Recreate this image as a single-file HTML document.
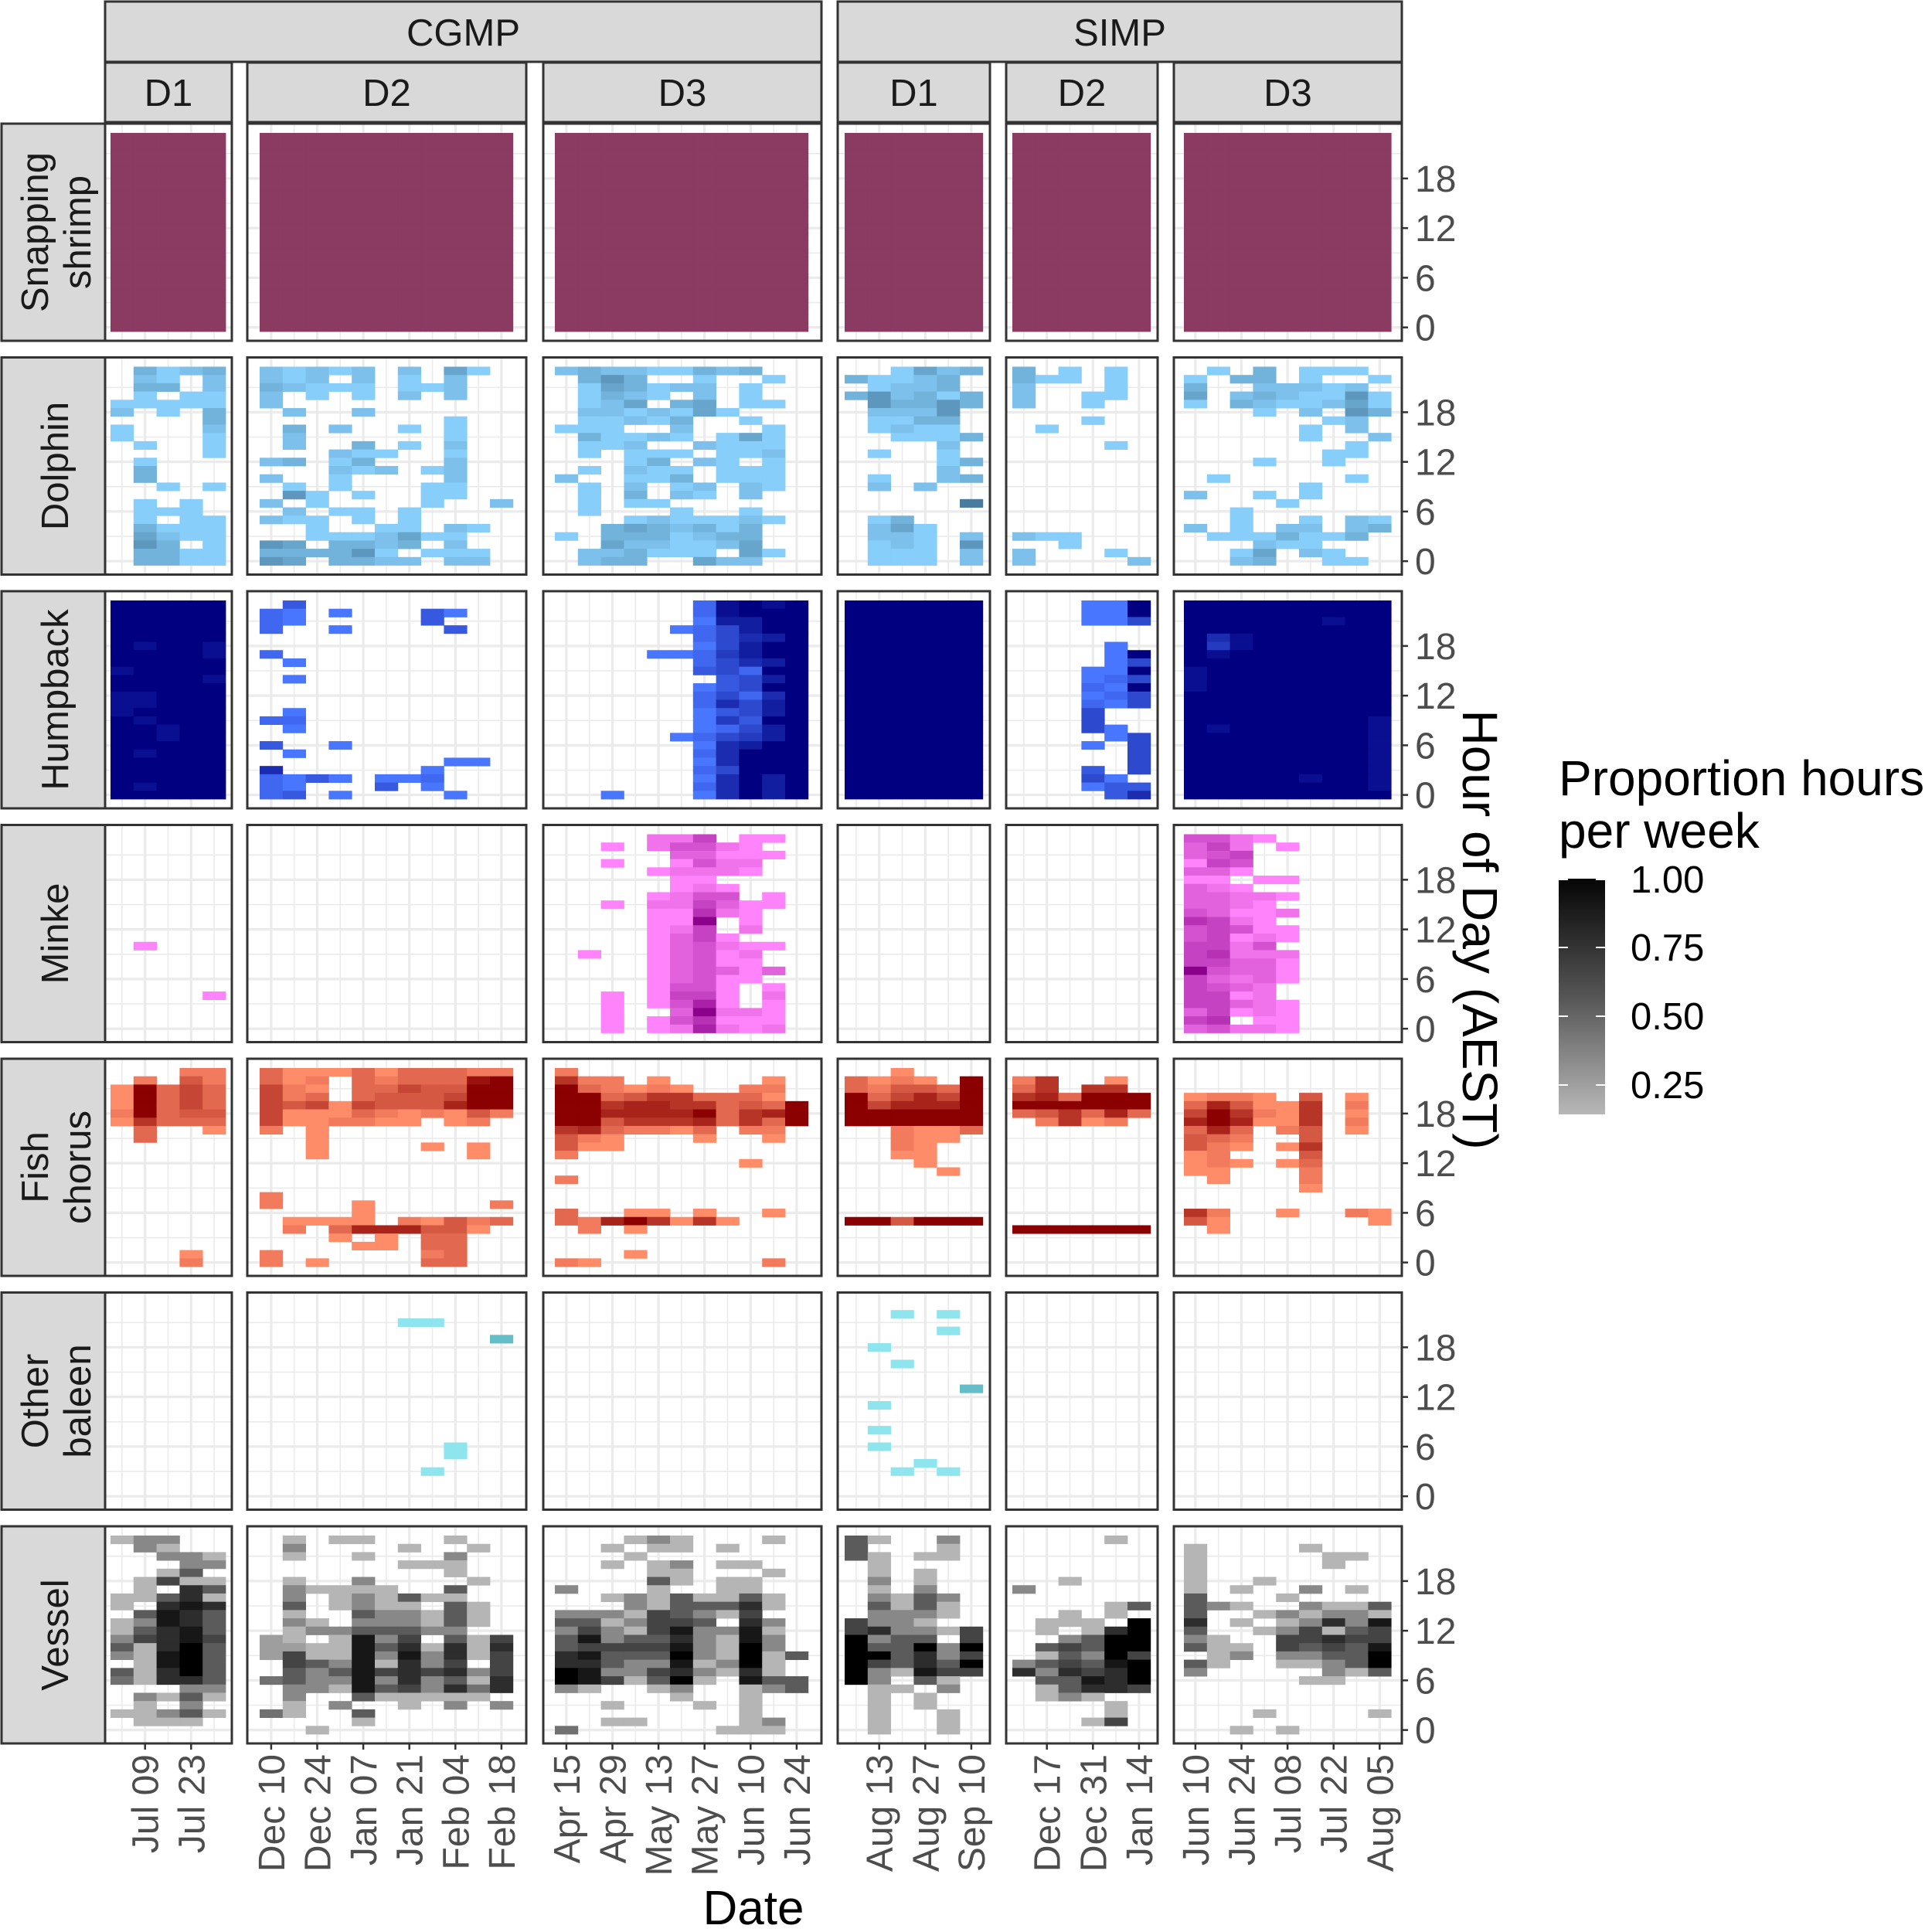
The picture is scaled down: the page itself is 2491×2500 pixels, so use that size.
<!DOCTYPE html>
<html><head><meta charset="utf-8">
<style>
html,body{margin:0;padding:0;background:#fff;}
svg{display:block;font-family:"Liberation Sans",Arial,sans-serif;}
</style></head>
<body>
<svg id="chart" width="2491" height="2500" viewBox="0 0 2491 2500" xmlns="http://www.w3.org/2000/svg">
<defs>
<linearGradient id="cbar" x1="0" y1="0" x2="0" y2="1">
<stop offset="0" stop-color="#050505"/><stop offset="0.5" stop-color="#555"/><stop offset="1" stop-color="#b8b8b8"/>
</linearGradient>
</defs>
<g id="grid-layer"></g>
<g id="cell-layer"></g>
<g id="frame-layer"></g>
<g id="text-layer"></g>
<text transform="translate(1893,1203) rotate(90)" text-anchor="middle" font-size="64" fill="#000">Hour of Day (AEST)</text>
<text x="975" y="2490" text-anchor="middle" font-size="62" fill="#000">Date</text>
<g>
<text x="2017" y="1029" font-size="64" fill="#000">Proportion hours</text>
<text x="2017" y="1097" font-size="64" fill="#000">per week</text>
<rect x="2017" y="1137" width="60" height="305" fill="url(#cbar)"/>
<g stroke="#fff" stroke-width="2">
<line x1="2017" x2="2029" y1="1138" y2="1138"/><line x1="2065" x2="2077" y1="1138" y2="1138"/>
<line x1="2017" x2="2029" y1="1226" y2="1226"/><line x1="2065" x2="2077" y1="1226" y2="1226"/>
<line x1="2017" x2="2029" y1="1315" y2="1315"/><line x1="2065" x2="2077" y1="1315" y2="1315"/>
<line x1="2017" x2="2029" y1="1404" y2="1404"/><line x1="2065" x2="2077" y1="1404" y2="1404"/>
</g>
<text x="2110" y="1155" font-size="49" fill="#000">1.00</text>
<text x="2110" y="1243" font-size="49" fill="#000">0.75</text>
<text x="2110" y="1332" font-size="49" fill="#000">0.50</text>
<text x="2110" y="1421" font-size="49" fill="#000">0.25</text>
</g>
</svg>
<script>
// ---- data: panel names, tick labels, and intensity grids (row 0 = hour 23, '.' = none, 1..9 = proportion) ----
const sites = ["CGMP","CGMP","CGMP","SIMP","SIMP","SIMP"];
const deployments = ["D1","D2","D3","D1","D2","D3"];
const species = ["Snapping shrimp","Dolphin","Humpback","Minke","Fish chorus","Other baleen","Vessel"];
const hourTicks = [0,6,12,18];
const tickCols = [[1,3],[0,2,4,6,8,10],[0,2,4,6,8,10],[1,3,5],[1,3,5],[0,2,4,6,8]];
const tickLabels = [["Jul 09","Jul 23"],["Dec 10","Dec 24","Jan 07","Jan 21","Feb 04","Feb 18"],["Apr 15","Apr 29","May 13","May 27","Jun 10","Jun 24"],["Aug 13","Aug 27","Sep 10"],["Dec 17","Dec 31","Jan 14"],["Jun 10","Jun 24","Jul 08","Jul 22","Aug 05"]];
const weekCounts = [5,11,11,6,6,9];

const shrimp = [
["99999","99999","99999","99999","99999","99999","99999","99999","99999","99999","99999","99999","99999","99999","99999","99999","99999","99999","99999","99999","99999","99999","99999","99999"],
["99999999999","99999999999","99999999999","99999999999","99999999999","99999999999","99999999999","99999999999","99999999999","99999999999","99999999999","99999999999","99999999999","99999999999","99999999999","99999999999","99999999999","99999999999","99999999999","99999999999","99999999999","99999999999","99999999999","99999999999"],
["99999999999","99999999999","99999999999","99999999999","99999999999","99999999999","99999999999","99999999999","99999999999","99999999999","99999999999","99999999999","99999999999","99999999999","99999999999","99999999999","99999999999","99999999999","99999999999","99999999999","99999999999","99999999999","99999999999","99999999999"],
["999999","999999","999999","999999","999999","999999","999999","999999","999999","999999","999999","999999","999999","999999","999999","999999","999999","999999","999999","999999","999999","999999","999999","999999"],
["999999","999999","999999","999999","999999","999999","999999","999999","999999","999999","999999","999999","999999","999999","999999","999999","999999","999999","999999","999999","999999","999999","999999","999999"],
["999999999","999999999","999999999","999999999","999999999","999999999","999999999","999999999","999999999","999999999","999999999","999999999","999999999","999999999","999999999","999999999","999999999","999999999","999999999","999999999","999999999","999999999","999999999","999999999"]
];
const dolphin = [
[".3123",".21.2",".33.2",".1.11","11111","2.1.3","....3","1...2","1...1",".1..1","....1",".1...",".3...",".3...","..1.1",".....",".1.1.",".111.",".1.11",".3111",".4211",".53.1",".3311",".3311"],
["21212.2.41.","212.2.1.2..","32111.112..","2.1.1.2.2..","2..........",".2..2......","........1..",".3.2..1.1..",".2......1..",".2..3.1.2..","...211..1..","23.13...2..","...212.12..","2..1....2..",".1.1...11..",".51.1..11..","2.1....1..2",".2.11.1....","211.1.1....","..1..11.21.","..1112411..","54.3323.2..","333351.111.","54.3322.22."],
["232211323..",".353..1..1.",".143122.1..",".1321.2.1..",".124.34.11.",".2212141...",".11213..1..","111..2...1.",".31121.141.",".112..2111.",".1.111.112.","...13.21.1.",".1.211.111.","2..113.111.",".1.2.12.21.",".1.3.21.2..",".1.11......",".1...1..1..","...1211121.","..3432313..","1.3331233..","..4221124..",".223111.41.",".233..422.."],
["..1423","31123.",".1223.","352313",".53353",".2225.",".1133.",".1211.","..1113","....2.",".1..1.","....13","....2.",".1..23",".2.2..","......",".....7","......",".13...",".241..",".221.2",".121.5",".111.2",".111.2"],
["3.1.1.","311.1.","2...1.","2..11.","2..1..","......","...1..",".1....","......","....1.","......","......","......","......","......","......","......","......","......","......","211...","..1...","2...1.","2....2"],
[".1.3.111.","1.33.1..1","3..22212.","4.2321151","1.3211241","...1.2.53","......12.",".....1.2.",".....1..2",".......1.","......11.","...1..1..",".........",".1.....1.",".....1...","2..1.1...","....1....","..1......","..1..1.21","2.1.22.23",".1113113.","...211...","..14.21..","..23..11."]
];
const humpback = [
["99999","99999","99999","99999","99999","98998","99998","99999","89999","99998","99999","88999","88999","89999","98999","99899","99899","99999","98999","99999","99999","99999","98999","99999"],
[".3.........","21.1...31..","21.....3...","2..1....3..","...........","...........","2..........",".1.........","...........",".1.........","...........","...........","...........",".1.........","22.........",".1.........","...........","3..1.......",".1.........","........11.","6......1...","2131.112...","21...3.1...","23.1....1.."],
["......28989","......28999","......17799",".....124799","......24679","......14799","....1125799","......24679","......34299",".......3479","......13499","......24269","......26479","......13479","......15399","......12479",".....124579","......16799","......26999","......16999","......24999","......16979","......26979","..1...16979"],
["999999","999999","999999","999999","999999","999999","999999","999999","999999","999999","999999","999999","999999","999999","999999","999999","999999","999999","999999","999999","999999","999999","999999","999999"],
["...119","...119","...114","......","......","....1.","....19","....14","...119","...124","...219","...124","...214","...4..","...4..","...41.","....14","...1.4",".....4",".....4","...3.4","...41.","...133","....36"],
["999999999","999999999","999999899","999999999","968999999","958999999","989999999","999999999","899999999","899999999","899999999","999999999","999999999","999999999","999999998","989999998","999999998","999999998","999999998","999999998","999999998","999998998","999999998","999999999"]
];
const minke = [
[".....",".....",".....",".....",".....",".....",".....",".....",".....",".....",".....",".....",".....",".1...",".....",".....",".....",".....",".....","....1",".....",".....",".....","....."],
["...........","...........","...........","...........","...........","...........","...........","...........","...........","...........","...........","...........","...........","...........","...........","...........","...........","...........","...........","...........","...........","...........","...........","..........."],
["....225.11.","..1.24421..",".....33111.","..1..1422..","....12221..",".....11....",".....121...","....1244.1.","..1.225311.","....11621..","....119.1..","....125.2..","....1351...","....134211.",".1..13412..","....13411..","....134313.","....13411..","....1441.1.","..1.1551.2.","..1.1471.1.","..1..39221.","..1.146111.","..1.127212."],
["......","......","......","......","......","......","......","......","......","......","......","......","......","......","......","......","......","......","......","......","......","......","......","......"],
["......","......","......","......","......","......","......","......","......","......","......","......","......","......","......","......","......","......","......","......","......","......","......","......"],
["4421.....","352.1....","345......","154......","331......","11.11....","321......","33221....","3321.....","43112....","6521.....","45411....","45121....","5524.....","56222....","55331....","94331....","53231....","5432.....","5512.....","55321....","35121....","56.11....","34221...."]
];
const fish = [
["...22",".2.42","19353","19353","19353","29344","16333",".3..1",".3...",".....",".....",".....",".....",".....",".....",".....",".....",".....",".....",".....",".....",".....","...1.","...2."],
["31113133322","312.3233389","521.3354499","523.3444599","54515444799","51113212142","5112211.12.","2.1........","..1........","..1....1.1.","..1......1.","...........","...........","...........","...........","2..........","2...1.....2","....1......",".1111.21423",".2.3777441.","...1.1.33..","....11.33..","2......23..","2.1....33.."],
["2..........","622.1....1.","932121..22.","9934663331.","99677663439","99777793679","99466673639","6732213.22.","421...1..1.","411........","2..........","........1..","...........","2..........","...........","...........","...........","3..11.1..1.","32796161...",".2.1.......","...........","...........","...1.......","21.......2."],
["..1...","3121.9","324439","935759","957779","999999","999999","..2113","..211.","..21..","..11..","...1..","....1.","......","......","......","......","......","994999","......","......","......","......","......"],
["......","26..1.","36.66.","673999","999999","346373",".2612.","......","......","......","......","......","......","......","......","......","......","......","......","999999","......","......","......","......"],
[".........",".........",".........","1221.4.1.","374116.2.","596216.1.","797116.2.","373.24.1.","432..4...","421.16...","12...4...","121.13...","11...2...",".1...2...",".....1...",".........",".........","62..1..21","41......1",".1.......",".........",".........",".........","........."]
];
const otherBaleen = [
[".....",".....",".....",".....",".....",".....",".....",".....",".....",".....",".....",".....",".....",".....",".....",".....",".....",".....",".....",".....",".....",".....",".....","....."],
["...........","...........","......11...","...........","..........4","...........","...........","...........","...........","...........","...........","...........","...........","...........","...........","...........","...........","........1..","........1..","...........",".......1...","...........","...........","..........."],
["...........","...........","...........","...........","...........","...........","...........","...........","...........","...........","...........","...........","...........","...........","...........","...........","...........","...........","...........","...........","...........","...........","...........","..........."],
["......","..1.1.","......","....1.","......",".1....","......","..1...","......","......",".....4","......",".1....","......","......",".1....","......",".1....","......","...1..","..1.1.","......","......","......"],
["......","......","......","......","......","......","......","......","......","......","......","......","......","......","......","......","......","......","......","......","......","......","......","......"],
[".........",".........",".........",".........",".........",".........",".........",".........",".........",".........",".........",".........",".........",".........",".........",".........",".........",".........",".........",".........",".........",".........",".........","........."]
];
const vessel = [
["133..",".31..","..331","...33","..15.",".1611",".1.75","11571","1.787",".5875","13875","15785","36786","51795","31895",".1895","51795","41775","...33",".3151",".1.3.","11351",".111.","....."],
[".1.11...1..",".3....1..1.",".1..1...3..","......111..","........1..",".1..3....1.",".31111..5..",".3.131511..",".5.1311.51.",".1..533151.",".31.333151.",".13355533..","21.1836.516","22118571717","26118383716",".65381736.6",".5358676736","45338373517",".3318563747",".3..511111.",".1.3..1.3.3","41..5......","....1......","..1........"],
["...131...1.","..1.11.1...","...1.......","..1.13.11..","....11...1.","....51.11..","3...1..11..","..13151151.","...3155571.","333165316..","5513665.73.","3631683381.","5835573183.","5666683193.","78555931915","7753381391.","9833673171.","9861591.855","31..13..135",".....1..1..","..1...1.1..","........1..","..11....13.","4......111."],
["51..3.","5...1.","51.11.",".1....",".1.1..",".3.1..",".1.3..",".3153.",".5151.",".3331.","6331..","673316","9355.6","955939","995736","965759","931866","93.51.",".11.3.",".1.1..",".1.1..",".1..1.",".1..1.",".1..1."],
["....1.","......","......","......","......","..1...","3.....","......","....15","..1.1.",".111.9",".1.179","..3599",".56599",".15396","356589","737679",".55879",".15776",".131..","....1.","....1.","...16.","......"],
[".........","1....1...","1.....11.","1.....1..","1........","1..1.....","1.1..3.1.","5...1....","531..3115","5..131331","7.1.13738","5..136156","31..66766","511.65658",".13.33559","51..11359","3.....315",".....11..",".........",".........",".........","...1....1",".........","..1.1...."]
];
const speciesData = [shrimp, dolphin, humpback, minke, fish, otherBaleen, vessel];
const lowColors  = ["#8B3A62","#87CEFA","#4876FF","#FF83FA","#FF8C69","#8EE5EE","#B5B5B5"];
const highColors = ["#8B3A62","#33607F","#000080","#8B008B","#8B0000","#1F7A85","#000000"];

// ---- layout ----
const NS = "http://www.w3.org/2000/svg";
const panelBorders = [[136,300],[320,681],[703,1063],[1084,1281],[1302,1498],[1519,1814]];
const dataX0 = [143,336,718,1093,1310,1532];
const colW = 29.8;
const rowTop0 = 160, rowPitch = 302.5, panelH = 281, dataPad = 12, rowH = 257/24;

function panelTop(i){ return rowTop0 + i*rowPitch; }
function xCol(p, c){ return dataX0[p] + c*colW; }
function yHour(i, h){ return panelTop(i) + dataPad + (23 - h)*rowH; }
function hex(c){ return [1,3,5].map(k=>parseInt(c.substr(k,2),16)); }
function mix(a,b,t){ const A=hex(a),B=hex(b); return "rgb("+A.map((v,k)=>Math.round(v+(B[k]-v)*t)).join(",")+")"; }
function el(tag, attrs, parent){ const e=document.createElementNS(NS,tag); for(const k in attrs) e.setAttribute(k,attrs[k]); parent.appendChild(e); return e; }

const gridL = document.getElementById("grid-layer");
const cellL = document.getElementById("cell-layer");
const frameL = document.getElementById("frame-layer");
const textL = document.getElementById("text-layer");

for (let i=0;i<species.length;i++){
  const top = panelTop(i);
  for (let p=0;p<6;p++){
    const [bx0,bx1] = panelBorders[p];
    const bg = el("rect",{x:bx0,y:top,width:bx1-bx0,height:panelH,fill:"#fff"},gridL);
    
    
    for (let c=0;c<weekCounts[p];c++){
      const x = xCol(p,c)+colW/2;
      const major = tickCols[p].indexOf(c) >= 0;
      const gl = el("line",{x1:x,x2:x,y1:top,y2:top+panelH,stroke:"#ebebeb","stroke-width":major?3.2:1.6},gridL);
      
      
    }
    for (let h=0;h<24;h+=3){
      const y = yHour(i,h)+rowH/2;
      const major = h%6===0;
      const gl = el("line",{x1:bx0,x2:bx1,y1:y,y2:y,stroke:"#ebebeb","stroke-width":major?3.2:1.6},gridL);
      
      
    }
    const grid = speciesData[i][p];
    for (let r=0;r<grid.length;r++){
      const hour = 23 - r;
      const row = grid[r];
      for (let c=0;c<row.length;c++){
        const ch = row[c];
        if (ch === ".") continue;
        const d = parseInt(ch,10);
        const col = mix(lowColors[i], highColors[i], (d-1)/8);
        const cell = el("rect",{x:xCol(p,c),y:yHour(i,hour),width:colW+0.4,height:rowH+0.4,fill:col},cellL);
        
        
      }
    }
    const br = el("rect",{x:bx0,y:top,width:bx1-bx0,height:panelH,fill:"none",stroke:"#333","stroke-width":3},frameL);
    
    
  }
  const rs = el("rect",{x:2,y:top,width:134,height:panelH,fill:"#d9d9d9",stroke:"#333","stroke-width":3},frameL);
  
  
  const words = species[i].split(" ");
  const cy = top + panelH/2;
  const bases = words.length===2 ? [62,117] : [88];
  for (let w=0;w<words.length;w++){
    const t = el("text",{transform:"translate("+bases[w]+","+cy+") rotate(-90)","text-anchor":"middle","font-size":49,fill:"#1a1a1a"},textL);
    t.textContent = words[w];
    
    
  }
  for (const h of hourTicks){
    const y = yHour(i,h)+rowH/2;
    const tk = el("line",{x1:1814,x2:1822,y1:y,y2:y,stroke:"#333","stroke-width":2.5},frameL);
    
    
    const tl = el("text",{x:1831,y:y+17,"font-size":48,fill:"#4d4d4d"},textL);
    tl.textContent = String(h);
    
    
  }
}

const siteSpans = [["CGMP",136,1063],["SIMP",1084,1814]];
for (const [name,x0,x1] of siteSpans){
  const s = el("rect",{x:x0,y:2,width:x1-x0,height:78,fill:"#d9d9d9",stroke:"#333","stroke-width":3},frameL);
  
  
  const t = el("text",{x:(x0+x1)/2,y:59,"text-anchor":"middle","font-size":49,fill:"#1a1a1a"},textL);
  t.textContent = name;
  
  
}
for (let p=0;p<6;p++){
  const [x0,x1] = panelBorders[p];
  const s = el("rect",{x:x0,y:81,width:x1-x0,height:77,fill:"#d9d9d9",stroke:"#333","stroke-width":3},frameL);
  
  
  const t = el("text",{x:(x0+x1)/2,y:137,"text-anchor":"middle","font-size":49,fill:"#1a1a1a"},textL);
  t.textContent = deployments[p];
  
  
}

const bottom = panelTop(species.length-1) + panelH;
for (let p=0;p<6;p++){
  for (let k=0;k<tickCols[p].length;k++){
    const x = xCol(p,tickCols[p][k]) + colW/2;
    const tk = el("line",{x1:x,x2:x,y1:bottom,y2:bottom+8,stroke:"#333","stroke-width":2.5},frameL);
    
    
    const tl = el("text",{transform:"translate("+(x+17)+","+(bottom+14)+") rotate(-90)","text-anchor":"end","font-size":48,fill:"#4d4d4d"},textL);
    tl.textContent = tickLabels[p][k];
    
    
  }
}
</script>
</body></html>
